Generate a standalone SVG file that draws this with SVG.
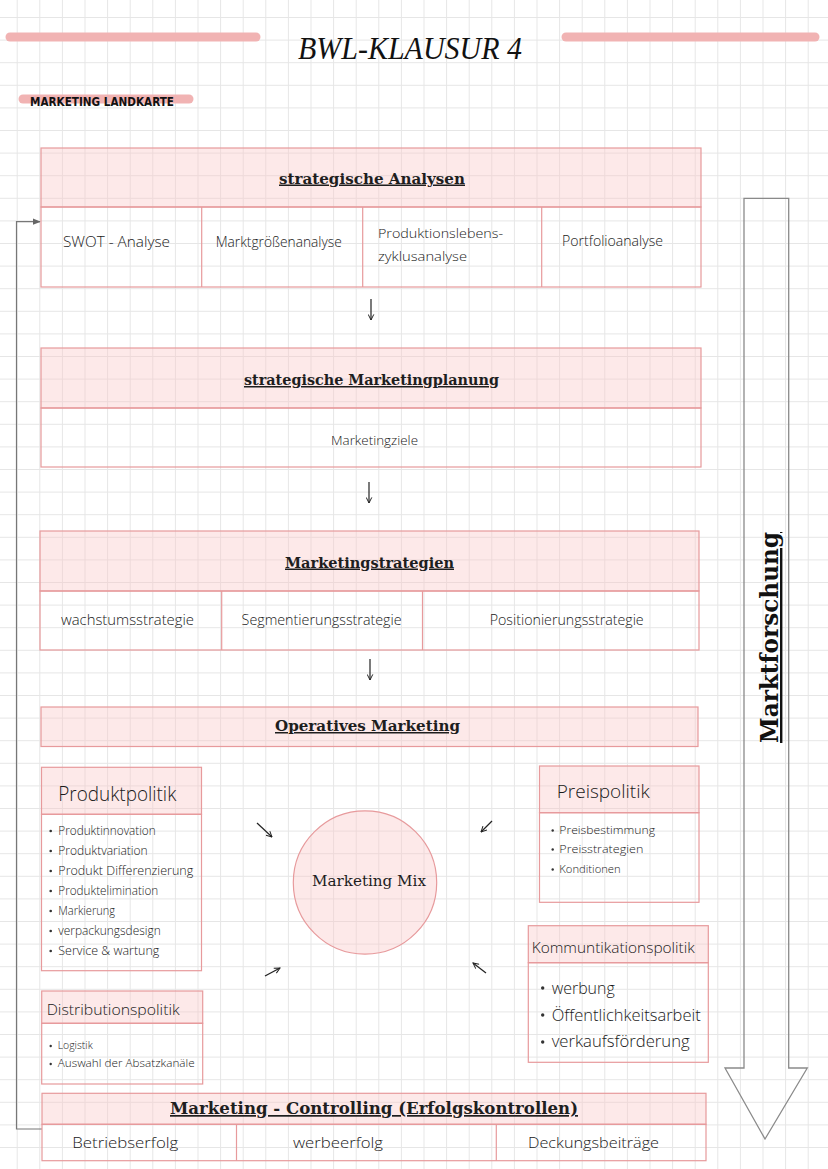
<svg xmlns="http://www.w3.org/2000/svg" width="828" height="1169" viewBox="0 0 828 1169">
<style>
.box{fill:none;stroke:#e79a9c;stroke-width:1.2}
.hdr{fill:#f9c4c4;fill-opacity:0.38;stroke:#e79a9c;stroke-width:1.2}
.div{stroke:#e79a9c;stroke-width:1.2}
.h{font-family:"DejaVu Serif","Liberation Serif",serif;font-weight:bold;fill:#1e1e1e;text-decoration:underline;text-anchor:middle}
.hw{font-family:"Open Sans","Liberation Sans",sans-serif;font-weight:300;fill:#1a1a1a}
.bul{fill:#333}
.conn{fill:none;stroke:#222;stroke-width:1.2}
</style>
<defs>
<pattern id="grid" patternUnits="userSpaceOnUse" x="16.7" y="17" width="22.6" height="22.6">
<path d="M0 0.5 H22.6 M0.5 0 V22.6" fill="none" stroke="#e6e6e6" stroke-width="1"/>
</pattern>
<marker id="open" viewBox="0 0 10 10" refX="9" refY="5" markerWidth="7" markerHeight="7" orient="auto" markerUnits="userSpaceOnUse">
<path d="M1 1 L9 5 L1 9" fill="none" stroke="#222" stroke-width="1.4"/>
</marker>
<marker id="fill" viewBox="0 0 10 10" refX="9" refY="5" markerWidth="8" markerHeight="8" orient="auto" markerUnits="userSpaceOnUse">
<path d="M0 1 L10 5 L0 9 Z" fill="#666"/>
</marker>
</defs>
<rect width="828" height="1169" fill="#ffffff"/>
<rect width="828" height="1169" fill="url(#grid)"/>

<g id="title">
<line x1="10" y1="37" x2="256" y2="37" stroke="#f1b3b3" stroke-width="9" stroke-linecap="round"/>
<line x1="566" y1="37" x2="815" y2="37" stroke="#f1b3b3" stroke-width="9" stroke-linecap="round"/>
<text x="298" y="59" font-family="Liberation Serif,serif" font-style="italic" font-size="32" fill="#111" textLength="224" lengthAdjust="spacingAndGlyphs">BWL-KLAUSUR 4</text>
</g>

<g id="subtitle">
<line x1="23" y1="99" x2="189" y2="99" stroke="#f1b3b3" stroke-width="9" stroke-linecap="round"/>
<text x="30" y="106" font-family="DejaVu Sans,sans-serif" font-weight="bold" font-size="13" fill="#111" textLength="144" lengthAdjust="spacingAndGlyphs">MARKETING LANDKARTE</text>
</g>

<g id="connectors">
<line x1="371" y1="299" x2="371" y2="320" class="conn" marker-end="url(#open)"/>
<line x1="369" y1="482" x2="369" y2="503" class="conn" marker-end="url(#open)"/>
<line x1="370" y1="659" x2="370" y2="680" class="conn" marker-end="url(#open)"/>
<line x1="257" y1="823" x2="272" y2="837" class="conn" marker-end="url(#open)"/>
<line x1="492" y1="821" x2="481" y2="832" class="conn" marker-end="url(#open)"/>
<line x1="265" y1="976" x2="280" y2="968" class="conn" marker-end="url(#open)"/>
<line x1="486" y1="973" x2="473" y2="963" class="conn" marker-end="url(#open)"/>
<polyline points="42,1129 16.5,1129 16.5,221.7 40,221.7" fill="none" stroke="#777" stroke-width="1.2" marker-end="url(#fill)"/>
</g>

<g id="strategische-analysen">
<rect x="41" y="148" width="660" height="59" class="hdr"/>
<rect x="41" y="207" width="660" height="80" class="box"/>
<line x1="201.7" y1="207" x2="201.7" y2="287" class="div"/>
<line x1="362.7" y1="207" x2="362.7" y2="287" class="div"/>
<line x1="541.7" y1="207" x2="541.7" y2="287" class="div"/>
<text x="372" y="183.5" font-size="15" class="h" textLength="186" lengthAdjust="spacingAndGlyphs">strategische Analysen</text>
<text x="63" y="247" font-size="14" class="hw" textLength="107" lengthAdjust="spacingAndGlyphs">SWOT - Analyse</text>
<text x="215.7" y="247" font-size="14" class="hw" textLength="126" lengthAdjust="spacingAndGlyphs">Marktgrößenanalyse</text>
<text x="378" y="238" font-size="13" class="hw" textLength="125" lengthAdjust="spacingAndGlyphs">Produktionslebens-</text>
<text x="378" y="261" font-size="13" class="hw" textLength="89" lengthAdjust="spacingAndGlyphs">zyklusanalyse</text>
<text x="562" y="246" font-size="14" class="hw" textLength="101" lengthAdjust="spacingAndGlyphs">Portfolioanalyse</text>
</g>

<g id="marketingplanung">
<rect x="41" y="348" width="660" height="60" class="hdr"/>
<rect x="41" y="408" width="660" height="59" class="box"/>
<text x="371.5" y="385" font-size="15" class="h" textLength="255" lengthAdjust="spacingAndGlyphs">strategische Marketingplanung</text>
<text x="331" y="445" font-size="13" class="hw" textLength="87" lengthAdjust="spacingAndGlyphs">Marketingziele</text>
</g>

<g id="marketingstrategien">
<rect x="40" y="531" width="659" height="60" class="hdr"/>
<rect x="40" y="591" width="659" height="59" class="box"/>
<line x1="221.7" y1="591" x2="221.7" y2="650" class="div"/>
<line x1="422.5" y1="591" x2="422.5" y2="650" class="div"/>
<text x="369.5" y="567.5" font-size="15" class="h" textLength="169" lengthAdjust="spacingAndGlyphs">Marketingstrategien</text>
<text x="61" y="625" font-size="14" class="hw" textLength="133" lengthAdjust="spacingAndGlyphs">wachstumsstrategie</text>
<text x="241.6" y="625" font-size="14" class="hw" textLength="160" lengthAdjust="spacingAndGlyphs">Segmentierungsstrategie</text>
<text x="489.7" y="625" font-size="14" class="hw" textLength="154" lengthAdjust="spacingAndGlyphs">Positionierungsstrategie</text>
</g>

<g id="operatives-marketing">
<rect x="41" y="707" width="657" height="39.5" class="hdr"/>
<text x="367.5" y="731" font-size="15" class="h" textLength="185" lengthAdjust="spacingAndGlyphs">Operatives Marketing</text>
</g>

<g id="produktpolitik">
<rect x="41.5" y="767.3" width="160" height="47" class="hdr"/>
<rect x="41.5" y="814.3" width="160" height="156.4" class="box"/>
<text x="58.3" y="801" font-size="21" class="hw" textLength="118" lengthAdjust="spacingAndGlyphs">Produktpolitik</text>
<circle cx="50.7" cy="831" r="1.3" class="bul"/>
<circle cx="50.7" cy="851" r="1.3" class="bul"/>
<circle cx="50.7" cy="871" r="1.3" class="bul"/>
<circle cx="50.7" cy="891" r="1.3" class="bul"/>
<circle cx="50.7" cy="911" r="1.3" class="bul"/>
<circle cx="50.7" cy="931" r="1.3" class="bul"/>
<circle cx="50.7" cy="951" r="1.3" class="bul"/>
<text x="58.3" y="835" font-size="12" class="hw" textLength="97.4" lengthAdjust="spacingAndGlyphs">Produktinnovation</text>
<text x="58.3" y="855" font-size="12" class="hw" textLength="89.4" lengthAdjust="spacingAndGlyphs">Produktvariation</text>
<text x="58.3" y="875" font-size="12" class="hw" textLength="135" lengthAdjust="spacingAndGlyphs">Produkt Differenzierung</text>
<text x="58.3" y="895" font-size="12" class="hw" textLength="100" lengthAdjust="spacingAndGlyphs">Produktelimination</text>
<text x="58.3" y="915" font-size="12" class="hw" textLength="56.7" lengthAdjust="spacingAndGlyphs">Markierung</text>
<text x="58.3" y="935" font-size="12" class="hw" textLength="102.4" lengthAdjust="spacingAndGlyphs">verpackungsdesign</text>
<text x="58.3" y="955" font-size="12" class="hw" textLength="101" lengthAdjust="spacingAndGlyphs">Service &amp; wartung</text>
</g>

<g id="marketing-mix">
<circle cx="365" cy="882.5" r="71.7" fill="#f9c4c4" fill-opacity="0.38" stroke="#e79a9c" stroke-width="1.2"/>
<text x="369" y="885.5" font-family="DejaVu Serif,Liberation Serif,serif" font-size="15" fill="#1e1e1e" text-anchor="middle" textLength="114" lengthAdjust="spacingAndGlyphs">Marketing Mix</text>
</g>

<g id="preispolitik">
<rect x="539.5" y="766" width="159.5" height="46.7" class="hdr"/>
<rect x="539.5" y="812.7" width="159.5" height="89.6" class="box"/>
<text x="556.7" y="798" font-size="19" class="hw" textLength="93" lengthAdjust="spacingAndGlyphs">Preispolitik</text>
<circle cx="552.7" cy="830.5" r="1.2" class="bul"/>
<circle cx="552.7" cy="849.5" r="1.2" class="bul"/>
<circle cx="552.7" cy="869.5" r="1.2" class="bul"/>
<text x="559.3" y="834" font-size="11.5" class="hw" textLength="95.7" lengthAdjust="spacingAndGlyphs">Preisbestimmung</text>
<text x="559.3" y="853" font-size="11.5" class="hw" textLength="84" lengthAdjust="spacingAndGlyphs">Preisstrategien</text>
<text x="559.3" y="873" font-size="11.5" class="hw" textLength="61.4" lengthAdjust="spacingAndGlyphs">Konditionen</text>
</g>

<g id="kommunikationspolitik">
<rect x="528.3" y="925.7" width="180" height="37" class="hdr"/>
<rect x="528.3" y="962.7" width="180" height="99.6" class="box"/>
<text x="531.7" y="953" font-size="15" class="hw" textLength="163" lengthAdjust="spacingAndGlyphs">Kommuntikationspolitik</text>
<circle cx="542.7" cy="988" r="1.7" class="bul"/>
<circle cx="542.7" cy="1015" r="1.7" class="bul"/>
<circle cx="542.7" cy="1042" r="1.7" class="bul"/>
<text x="551.7" y="993.5" font-size="17" class="hw" textLength="63" lengthAdjust="spacingAndGlyphs">werbung</text>
<text x="551.7" y="1020.7" font-size="17" class="hw" textLength="149" lengthAdjust="spacingAndGlyphs">Öffentlichkeitsarbeit</text>
<text x="551.7" y="1047.3" font-size="17" class="hw" textLength="138" lengthAdjust="spacingAndGlyphs">verkaufsförderung</text>
</g>

<g id="distributionspolitik">
<rect x="41.7" y="991" width="161" height="32.3" class="hdr"/>
<rect x="41.7" y="1023.3" width="161" height="60.7" class="box"/>
<text x="46.7" y="1015" font-size="15" class="hw" textLength="133" lengthAdjust="spacingAndGlyphs">Distributionspolitik</text>
<circle cx="50.7" cy="1046" r="1.2" class="bul"/>
<circle cx="50.7" cy="1064" r="1.2" class="bul"/>
<text x="57.7" y="1049.3" font-size="11" class="hw" textLength="35" lengthAdjust="spacingAndGlyphs">Logistik</text>
<text x="57.7" y="1067.3" font-size="11" class="hw" textLength="137" lengthAdjust="spacingAndGlyphs">Auswahl der Absatzkanäle</text>
</g>

<g id="marketing-controlling">
<rect x="42" y="1093.3" width="664" height="31" class="hdr"/>
<rect x="42" y="1124.3" width="664" height="36.4" class="box"/>
<line x1="236.5" y1="1124.3" x2="236.5" y2="1160.7" class="div"/>
<line x1="496.3" y1="1124.3" x2="496.3" y2="1160.7" class="div"/>
<text x="374" y="1114" font-size="17" class="h" textLength="408" lengthAdjust="spacingAndGlyphs">Marketing - Controlling (Erfolgskontrollen)</text>
<text x="72.3" y="1148" font-size="15" class="hw" textLength="106" lengthAdjust="spacingAndGlyphs">Betriebserfolg</text>
<text x="293" y="1148" font-size="15" class="hw" textLength="90" lengthAdjust="spacingAndGlyphs">werbeerfolg</text>
<text x="528" y="1148" font-size="15" class="hw" textLength="131" lengthAdjust="spacingAndGlyphs">Deckungsbeiträge</text>
</g>

<g id="marktforschung">
<polygon points="744,198.3 788.7,198.3 788.7,1068 807.3,1068 765,1139 725,1068 744,1068" fill="none" stroke="#8a8a8a" stroke-width="1.3"/>
<text x="0" y="0" transform="translate(778 637.5) rotate(-90)" font-family="DejaVu Serif,Liberation Serif,serif" font-weight="bold" font-size="24" fill="#111" text-decoration="underline" text-anchor="middle" textLength="211" lengthAdjust="spacingAndGlyphs">Marktforschung</text>
</g>
</svg>
